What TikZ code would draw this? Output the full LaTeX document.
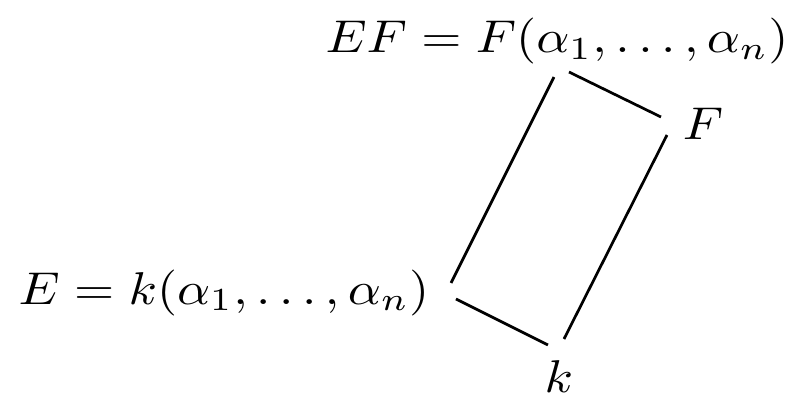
\documentclass[tikz,border=0pt]{standalone}
\usepackage{graphicx}
\usepackage{amsmath}
\usetikzlibrary{positioning}
\newcommand{\sqz}[1]{\scalebox{0.955}[0.85]{$#1$}}

\begin{document}
\begin{tikzpicture}[x=0.185pt,y=-0.185pt,
  obj/.style={inner sep=0pt,anchor=base},
  rel/.style={line width=0.5pt}]
  \useasboundingbox (0,0) rectangle (796,397);
  \node[obj] (EF) at (557,53) {\sqz{EF = F(\alpha_1,\ldots,\alpha_n)}};
  \node[obj] (F) at (703,139) {\sqz{F}};
  \node[obj] (E) at (224,304) {\sqz{E = k(\alpha_1,\ldots,\alpha_n)}};
  \node[obj] (k) at (559,393) {\sqz{k}};
  \draw[rel] ([shift={(12,19)}]EF.base) -- ([shift={(-42,-22)}]F.base);
  \draw[rel] ([shift={(-3,24)}]EF.base) -- ([shift={(227,-21)}]E.base);
  \draw[rel] ([shift={(-36,-4)}]F.base) -- ([shift={(5,-54)}]k.base);
  \draw[rel] ([shift={(232,-5)}]E.base) -- ([shift={(-11,-48)}]k.base);
\end{tikzpicture}
\end{document}
